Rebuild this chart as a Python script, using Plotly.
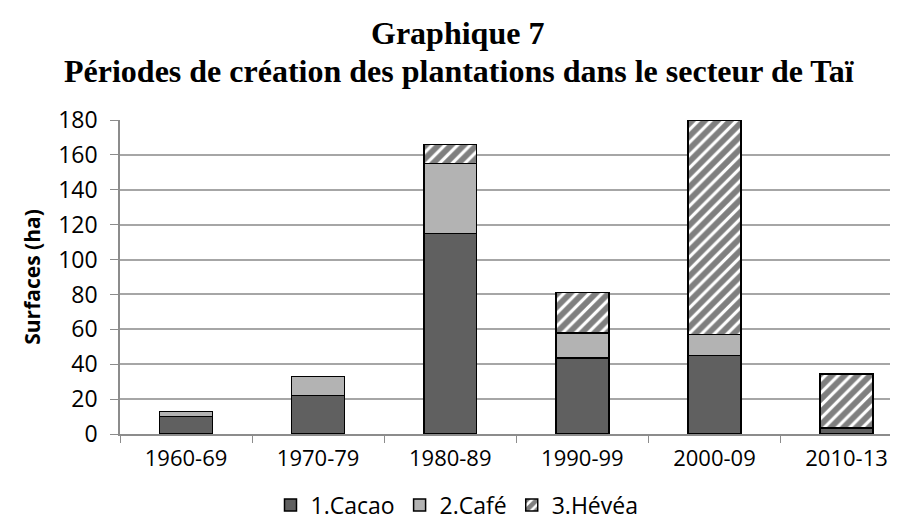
import plotly.graph_objects as go

periods = ['1960-69', '1970-79', '1980-89', '1990-99', '2000-09', '2010-13']
cacao = [10, 22, 115, 43.5, 45, 3.5]
cafe = [3, 11, 40, 14.5, 12, 0]
hevea = [0, 0, 11, 23, 123, 31]

y_ticks = list(range(0, 181, 20))

tick_font = dict(family='Open Sans', size=22, color='#000000')
title_font = dict(family='Liberation Serif', size=32, color='#000000')

# plot area in pixels: x 112..898, y 112..426
def px_x(x):
    return (x - 112) / 786

def px_y(y):
    return (426 - y) / 314

fig = go.Figure()
fig.add_trace(go.Bar(
    x=periods, y=cacao, name='1.Cacao',
    marker=dict(color='#606060', line=dict(color='#000000', width=1.5)),
))
fig.add_trace(go.Bar(
    x=periods, y=cafe, name='2.Café',
    marker=dict(color='#b3b3b3', line=dict(color='#000000', width=1.5)),
))
fig.add_trace(go.Bar(
    x=periods, y=hevea, name='3.Hévéa',
    marker=dict(
        color='#ffffff',
        line=dict(color='#000000', width=1.5),
        pattern=dict(shape='/', fgcolor='#000000', bgcolor='#ffffff', size=9, solidity=0.65),
    ),
))

fig.update_layout(
    barmode='stack',
    bargap=0.6,
    width=898, height=520,
    margin=dict(l=112, r=0, t=112, b=94),
    paper_bgcolor='white', plot_bgcolor='white',
    font=tick_font,
    showlegend=True,
    legend=dict(
        orientation='h', traceorder='normal',
        xref='container', yref='container',
        x=0.5, xanchor='center', y=(520 - 497) / 520, yanchor='middle',
        font=dict(family='Open Sans', size=23, color='#000000'), itemwidth=30,
    ),
    annotations=[
        dict(text='<b>Graphique 7</b>', xref='paper', yref='paper', x=px_x(449),
             y=px_y(25), xanchor='center', yanchor='middle', showarrow=False,
             font=title_font),
        dict(text='<b>Périodes de création des plantations dans le secteur de Taï</b>',
             xref='paper', yref='paper', x=px_x(451), y=px_y(63),
             xanchor='center', yanchor='middle', showarrow=False,
             font=title_font),
    ],
)

fig.update_xaxes(
    type='category', range=[-0.5, 5.45],
    showline=True, linecolor='#8c8c8c', linewidth=1.5,
    ticks='outside', tickson='boundaries', ticklen=7, tickcolor='#8c8c8c',
    tickfont=tick_font, showgrid=False, ticklabelstandoff=4,
)
fig.update_yaxes(
    range=[0, 180], tickvals=y_ticks,
    showline=True, linecolor='#8c8c8c', linewidth=1.5,
    ticks='outside', ticklen=8, tickcolor='#8c8c8c',
    showgrid=True, gridcolor='#a6a6a6', gridwidth=1.5,
    zeroline=False, tickfont=dict(family='Open Sans', size=23, color='#000000'),
    ticklabelstandoff=8,
    title=dict(text='<b>Surfaces (ha)</b>', font=dict(family='Open Sans', size=21, color='#000000'), standoff=12),
)

fig.write_html('out.html')
